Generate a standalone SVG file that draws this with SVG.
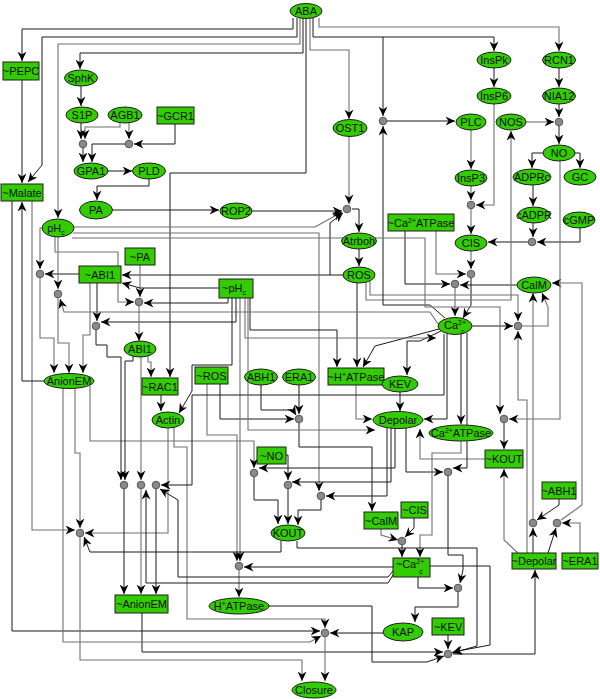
<svg xmlns="http://www.w3.org/2000/svg" width="600" height="699" viewBox="0 0 600 699">
<style>
.nd{fill:#33cc00;stroke:#1f1f1f;stroke-width:1}
.t{font-family:"Liberation Sans",Arial,sans-serif;font-size:11px;fill:#111;text-anchor:middle}
.s{font-size:7px}
.j{fill:#8a8a8a;stroke:#555;stroke-width:1}
.k{fill:none;stroke:#1a1a1a;stroke-width:1;marker-end:url(#a)}
.g{fill:none;stroke:#707070;stroke-width:1.1;marker-end:url(#a)}
</style>
<defs>
<marker id="a" markerUnits="userSpaceOnUse" markerWidth="10" markerHeight="9" refX="9.5" refY="4.5" orient="auto">
<path d="M0,0 L9.5,4.5 L0,9 L3,4.5 z" fill="#000"/>
</marker>
</defs>
<rect width="600" height="699" fill="#fff"/>
<g id="connectors">
<path class="k" d="M293,18 V29 H22 V61"/>
<path class="k" d="M297,18 V37 H42 V165 L28,182"/>
<path class="k" d="M22,80 V183"/>
<path class="g" d="M300,18 V44 H58 V218"/>
<path class="k" d="M303,18 V53 H80 V69"/>
<path class="k" d="M306,19 V173 H170 V377"/>
<path class="g" d="M310,18 V50 H349 V119"/>
<path class="k" d="M313,18 V37 H494 V51"/>
<path class="k" d="M383,37 V116"/>
<path class="g" d="M319,18 V27 H559 V51"/>
<path class="k" d="M81,86 V106"/>
<path class="k" d="M81,123 V139"/>
<path class="g" d="M120,123 V127 H85 V139"/>
<path class="g" d="M129,123 V139"/>
<path class="k" d="M175,124 V144 H134"/>
<path class="k" d="M83,148 V162"/>
<path class="k" d="M125,144 H92 V162"/>
<path class="k" d="M108,171 H132"/>
<path class="k" d="M149,179 V186 H97 V200"/>
<path class="k" d="M113,210 H219"/>
<path class="k" d="M252,211 H342"/>
<path class="g" d="M349,137 V204"/>
<path class="k" d="M352,209 H359 V232"/>
<path class="k" d="M359,249 V266"/>
<path class="g" d="M74,227 H315 L342,212"/>
<path class="k" d="M343,275 H122"/>
<path class="k" d="M330,275 V223 L343,213"/>
<path class="k" d="M494,68 V87"/>
<path class="k" d="M559,68 V87"/>
<path class="k" d="M559,104 V117"/>
<path class="g" d="M526,122 H554"/>
<path class="k" d="M559,126 V144"/>
<path class="k" d="M543,153 H532 V168"/>
<path class="k" d="M575,153 H580 V168"/>
<path class="k" d="M533,185 V206"/>
<path class="k" d="M533,223 V237"/>
<path class="k" d="M580,228 V242 H537"/>
<path class="k" d="M528,242 H488"/>
<path class="g" d="M471,130 V169"/>
<path class="g" d="M471,186 V200"/>
<path class="g" d="M494,104 V205 H476"/>
<path class="k" d="M387,121 H455"/>
<path class="g" d="M471,209 V234"/>
<path class="g" d="M471,251 V269"/>
<path class="g" d="M436,231 V274 H466"/>
<path class="k" d="M405,231 V284 H450"/>
<path class="k" d="M517,285 H460"/>
<path class="g" d="M455,288 V316"/>
<path class="k" d="M471,278 V305 L463,318"/>
<path class="k" d="M472,326 H513"/>
<path class="g" d="M522,326 H548 V307 L542,293"/>
<path class="g" d="M370,281 V295 H518 V321"/>
<path class="g" d="M366,282 V300 H511 V131"/>
<path class="k" d="M445,318 L430,305 H383 V126"/>
<path class="g" d="M533,519 V293"/>
<path class="g" d="M561,520 L582,505 V283 H552"/>
<path class="g" d="M560,161 V419 H509"/>
<path class="k" d="M504,423 V449"/>
<path class="g" d="M485,459 H420 V429"/>
<path class="g" d="M518,553 L504,540 V469"/>
<path class="k" d="M533,553 V528"/>
<path class="g" d="M527,553 V400 H518 V331"/>
<path class="k" d="M548,553 L556,528"/>
<path class="g" d="M580,553 V523 H562"/>
<path class="k" d="M559,499 V505 L537,520"/>
<path class="k" d="M441,331 L420,341 H407 V375"/>
<path class="k" d="M400,392 V411"/>
<path class="k" d="M447,334 V419 H424"/>
<path class="k" d="M461,334 V424"/>
<path class="k" d="M467,333 V468 H453"/>
<path class="k" d="M406,428 V472 H443"/>
<path class="g" d="M73,233 H319 V491"/>
<path class="g" d="M72,238 H425 V307 H500 V414"/>
<path class="k" d="M357,283 V367"/>
<path class="k" d="M439,329 L375,346 L363,367"/>
<path class="k" d="M250,298 V330 H337 V367"/>
<path class="g" d="M356,385 V419 H372"/>
<path class="k" d="M261,385 V410 H293 L296,415"/>
<path class="k" d="M299,385 V414"/>
<path class="k" d="M299,423 V447 H372 V511"/>
<path class="k" d="M220,384 V419 H294"/>
<path class="g" d="M207,384 V435 H237 V561"/>
<path class="g" d="M240,298 V561"/>
<path class="k" d="M395,429 V468 H259"/>
<path class="k" d="M391,428 V482 H292"/>
<path class="k" d="M387,427 V496 H326"/>
<path class="k" d="M286,455 H288 V480"/>
<path class="g" d="M90,386 V441 H254 V468"/>
<path class="k" d="M254,477 V500 H278 V524"/>
<path class="k" d="M288,489 V524"/>
<path class="k" d="M321,500 V510 H298 V525"/>
<path class="k" d="M448,476 V555 H463 V570 L460,583"/>
<path class="k" d="M414,518 V528 L405,537"/>
<path class="g" d="M381,529 V535 L398,540"/>
<path class="k" d="M402,545 V557"/>
<path class="g" d="M461,441 V453 H432 V535 H420 V557"/>
<path class="k" d="M393,567 H244"/>
<path class="g" d="M239,570 V597"/>
<path class="k" d="M418,577 V588 H453"/>
<path class="k" d="M458,592 V607 H415 V622"/>
<path class="k" d="M430,566 H490 V645 L453,652"/>
<path class="k" d="M297,541 V548 H477 V646 L452,653"/>
<path class="k" d="M448,635 V649"/>
<path class="k" d="M453,654 H535 V570"/>
<path class="k" d="M142,613 V652 H443"/>
<path class="k" d="M268,606 H372 V662 H427 L444,656"/>
<path class="k" d="M383,633 H330"/>
<path class="g" d="M325,637 V681"/>
<path class="k" d="M12,201 V631 H320"/>
<path class="g" d="M63,388 V642 H310 L321,636"/>
<path class="g" d="M174,427 V447 H187 V619 H325 V628"/>
<path class="g" d="M80,537 V660 H302 V681"/>
<path class="g" d="M32,201 V530 H75"/>
<path class="g" d="M75,388 V453 H80 V528"/>
<path class="g" d="M168,428 V533 H85"/>
<path class="k" d="M281,541 V552 H90 L84,537"/>
<path class="k" d="M44,381 H22 V202"/>
<path class="k" d="M124,489 V594"/>
<path class="g" d="M141,489 V594"/>
<path class="k" d="M156,489 V594"/>
<path class="k" d="M133,356 V361 H125 V480"/>
<path class="k" d="M96,330 V345 H107 V357 H121 V480"/>
<path class="g" d="M141,357 V480"/>
<path class="g" d="M148,356 V362 H151 V377"/>
<path class="k" d="M161,395 V411"/>
<path class="k" d="M232,298 V365 H192 V391 L179,413"/>
<path class="k" d="M444,334 V395 H192 V485 H161"/>
<path class="k" d="M393,575 L388,583 H146 V490"/>
<path class="k" d="M393,571 L388,577 H178 V500 L160,489"/>
<path class="g" d="M140,265 V297"/>
<path class="k" d="M97,283 V321"/>
<path class="k" d="M79,274 H45"/>
<path class="g" d="M42,228 H40 V269"/>
<path class="g" d="M58,237 V289"/>
<path class="g" d="M55,237 V252 H118 V302 H134"/>
<path class="k" d="M219,288 H140 L122,283"/>
<path class="k" d="M228,298 V303 H144"/>
<path class="g" d="M438,324 L430,312 H64 L60,299"/>
<path class="k" d="M236,298 V322 H101"/>
<path class="g" d="M40,278 V338 H54 V373"/>
<path class="g" d="M58,298 V343 H69 V373"/>
<path class="g" d="M90,283 V335 H83 V373"/>
<path class="g" d="M139,306 V341"/>
<path class="g" d="M248,298 V430 H375"/>
<path class="g" d="M245,298 V338 H436"/>
</g>
<g id="junctions">
<circle class="j" cx="83" cy="144" r="3.8"/><circle class="j" cx="129" cy="144" r="3.8"/>
<circle class="j" cx="383" cy="121" r="3.8"/><circle class="j" cx="347" cy="209" r="3.8"/>
<circle class="j" cx="559" cy="122" r="3.8"/><circle class="j" cx="471" cy="205" r="3.8"/>
<circle class="j" cx="532" cy="242" r="3.8"/><circle class="j" cx="471" cy="274" r="3.8"/>
<circle class="j" cx="455" cy="284" r="3.8"/><circle class="j" cx="518" cy="326" r="3.8"/>
<circle class="j" cx="40" cy="274" r="3.8"/><circle class="j" cx="58" cy="294" r="3.8"/>
<circle class="j" cx="139" cy="302" r="3.8"/><circle class="j" cx="96" cy="326" r="3.8"/>
<circle class="j" cx="124" cy="485" r="3.8"/><circle class="j" cx="141" cy="485" r="3.8"/>
<circle class="j" cx="156" cy="485" r="3.8"/><circle class="j" cx="299" cy="419" r="3.8"/>
<circle class="j" cx="254" cy="473" r="3.8"/><circle class="j" cx="288" cy="485" r="3.8"/>
<circle class="j" cx="321" cy="496" r="3.8"/><circle class="j" cx="504" cy="419" r="3.8"/>
<circle class="j" cx="448" cy="472" r="3.8"/><circle class="j" cx="533" cy="523" r="3.8"/>
<circle class="j" cx="557" cy="523" r="3.8"/><circle class="j" cx="402" cy="541" r="3.8"/>
<circle class="j" cx="458" cy="588" r="3.8"/><circle class="j" cx="448" cy="654" r="3.8"/>
<circle class="j" cx="239" cy="566" r="3.8"/><circle class="j" cx="325" cy="633" r="3.8"/>
<circle class="j" cx="80" cy="533" r="3.8"/>
</g>
<g id="n-ABA"><ellipse class="nd" cx="306" cy="11" rx="16" ry="7.5"/><text class="t" x="306" y="15">ABA</text></g>
<g id="n-PEPC"><rect class="nd" x="3" y="62" width="36" height="18"/><text class="t" x="21" y="75">~PEPC</text></g>
<g id="n-SphK"><ellipse class="nd" cx="81" cy="78" rx="16.5" ry="8"/><text class="t" x="81" y="82">SphK</text></g>
<g id="n-S1P"><ellipse class="nd" cx="82" cy="115" rx="16" ry="8"/><text class="t" x="82" y="119">S1P</text></g>
<g id="n-AGB1"><ellipse class="nd" cx="125" cy="115" rx="17" ry="8"/><text class="t" x="125" y="119">AGB1</text></g>
<g id="n-GCR1"><rect class="nd" x="157" y="107" width="37" height="17"/><text class="t" x="175.5" y="119.5">~GCR1</text></g>
<g id="n-GPA1"><ellipse class="nd" cx="91" cy="171" rx="17" ry="8"/><text class="t" x="91" y="175">GPA1</text></g>
<g id="n-PLD"><ellipse class="nd" cx="149" cy="171" rx="16.5" ry="8"/><text class="t" x="149" y="175">PLD</text></g>
<g id="n-Malate"><rect class="nd" x="1" y="184" width="42" height="17"/><text class="t" x="22" y="196.5">~Malate</text></g>
<g id="n-PA"><ellipse class="nd" cx="96" cy="210" rx="16.5" ry="9"/><text class="t" x="96" y="214">PA</text></g>
<g id="n-pHc"><ellipse class="nd" cx="58" cy="228" rx="16" ry="9"/><text class="t" x="56" y="232">pH<tspan class="s" dy="3">c</tspan></text></g>
<g id="n-ROP2"><ellipse class="nd" cx="236" cy="211" rx="16" ry="8"/><text class="t" x="236" y="215">ROP2</text></g>
<g id="n-OST1"><ellipse class="nd" cx="350" cy="128" rx="17" ry="8.5"/><text class="t" x="350" y="132">OST1</text></g>
<g id="n-Atrboh"><ellipse class="nd" cx="359" cy="241" rx="17.5" ry="8"/><text class="t" x="359" y="245">Atrboh</text></g>
<g id="n-ROS"><ellipse class="nd" cx="359" cy="275" rx="16" ry="8"/><text class="t" x="359" y="279">ROS</text></g>
<g id="n-InsPk"><ellipse class="nd" cx="494" cy="60" rx="17" ry="8"/><text class="t" x="494" y="64">InsPk</text></g>
<g id="n-InsP6"><ellipse class="nd" cx="494" cy="96" rx="17" ry="8"/><text class="t" x="494" y="100">InsP6</text></g>
<g id="n-RCN1"><ellipse class="nd" cx="559" cy="60" rx="16.5" ry="8"/><text class="t" x="559" y="64">RCN1</text></g>
<g id="n-NIA12"><ellipse class="nd" cx="559" cy="96" rx="16.5" ry="8"/><text class="t" x="559" y="100">NIA12</text></g>
<g id="n-PLC"><ellipse class="nd" cx="471" cy="122" rx="15" ry="8"/><text class="t" x="471" y="126">PLC</text></g>
<g id="n-NOS"><ellipse class="nd" cx="511" cy="122" rx="15" ry="8"/><text class="t" x="511" y="126">NOS</text></g>
<g id="n-NO"><ellipse class="nd" cx="559" cy="153" rx="16" ry="8"/><text class="t" x="559" y="157">NO</text></g>
<g id="n-InsP3"><ellipse class="nd" cx="471" cy="178" rx="16" ry="8"/><text class="t" x="471" y="182">InsP3</text></g>
<g id="n-ADPRc"><ellipse class="nd" cx="532" cy="177" rx="19" ry="8"/><text class="t" x="532" y="181">ADPRc</text></g>
<g id="n-GC"><ellipse class="nd" cx="580" cy="177" rx="16" ry="8"/><text class="t" x="580" y="181">GC</text></g>
<g id="n-cADPR"><ellipse class="nd" cx="534" cy="215" rx="16" ry="8"/><text class="t" x="534" y="219">cADPR</text></g>
<g id="n-cGMP"><ellipse class="nd" cx="579" cy="220" rx="16" ry="8"/><text class="t" x="579" y="224">cGMP</text></g>
<g id="n-CaATPase-r"><rect class="nd" x="388" y="214" width="66" height="17"/><text class="t" x="421" y="226.5">~Ca<tspan class="s" dy="-4">2+</tspan><tspan dy="4">ATPase</tspan></text></g>
<g id="n-CIS"><ellipse class="nd" cx="471" cy="243" rx="16" ry="8"/><text class="t" x="471" y="247">CIS</text></g>
<g id="n-CalM"><ellipse class="nd" cx="534" cy="285" rx="17" ry="8"/><text class="t" x="534" y="289">CalM</text></g>
<g id="n-Cac"><ellipse class="nd" cx="455" cy="326" rx="17" ry="8.5"/><text class="t" x="455" y="329">Ca<tspan class="s" dy="-4">2+</tspan><tspan class="s" dx="-5" dy="9">c</tspan></text></g>
<g id="n-PA-r"><rect class="nd" x="125" y="248" width="30" height="17"/><text class="t" x="140" y="260.5">~PA</text></g>
<g id="n-ABI1-r"><rect class="nd" x="79" y="266" width="42" height="17"/><text class="t" x="100" y="278.5">~ABI1</text></g>
<g id="n-pHc-r"><rect class="nd" x="219" y="279" width="34" height="19"/><text class="t" x="234" y="292">~pH<tspan class="s" dy="3">c</tspan></text></g>
<g id="n-ABI1"><ellipse class="nd" cx="140" cy="349" rx="16" ry="8"/><text class="t" x="140" y="353">ABI1</text></g>
<g id="n-AnionEM"><ellipse class="nd" cx="69" cy="381" rx="25" ry="7.5"/><text class="t" x="69" y="385">AnionEM</text></g>
<g id="n-RAC1-r"><rect class="nd" x="142" y="378" width="36" height="17"/><text class="t" x="160" y="390.5">~RAC1</text></g>
<g id="n-Actin"><ellipse class="nd" cx="168" cy="420" rx="16" ry="8"/><text class="t" x="168" y="424">Actin</text></g>
<g id="n-ROS-r"><rect class="nd" x="195" y="367" width="33" height="17"/><text class="t" x="211.5" y="379.5">~ROS</text></g>
<g id="n-ABH1"><ellipse class="nd" cx="261" cy="377" rx="16.5" ry="8"/><text class="t" x="261" y="381">ABH1</text></g>
<g id="n-ERA1"><ellipse class="nd" cx="299" cy="377" rx="16.5" ry="8"/><text class="t" x="299" y="381">ERA1</text></g>
<g id="n-HATPase-r"><rect class="nd" x="328" y="368" width="56" height="17"/><text class="t" x="356" y="380.5">~H<tspan class="s" dy="-4">+</tspan><tspan dy="4">ATPase</tspan></text></g>
<g id="n-KEV"><ellipse class="nd" cx="400" cy="384" rx="18" ry="8"/><text class="t" x="400" y="388">KEV</text></g>
<g id="n-Depolar"><ellipse class="nd" cx="398" cy="420" rx="25" ry="8.5"/><text class="t" x="398" y="424">Depolar</text></g>
<g id="n-CaATPase"><ellipse class="nd" cx="461" cy="433" rx="32" ry="8"/><text class="t" x="461" y="437">Ca<tspan class="s" dy="-4">2+</tspan><tspan dy="4">ATPase</tspan></text></g>
<g id="n-NO-r"><rect class="nd" x="257" y="447" width="29" height="17"/><text class="t" x="271.5" y="459.5">~NO</text></g>
<g id="n-KOUT-r"><rect class="nd" x="485" y="450" width="38" height="18"/><text class="t" x="504" y="463">~KOUT</text></g>
<g id="n-ABH1-r"><rect class="nd" x="542" y="482" width="34" height="17"/><text class="t" x="559" y="494.5">~ABH1</text></g>
<g id="n-CIS-r"><rect class="nd" x="401" y="502" width="27" height="16"/><text class="t" x="414.5" y="514">~CIS</text></g>
<g id="n-CalM-r"><rect class="nd" x="364" y="512" width="34" height="17"/><text class="t" x="381" y="524.5">~CalM</text></g>
<g id="n-KOUT"><ellipse class="nd" cx="288" cy="533" rx="17" ry="8"/><text class="t" x="288" y="537">KOUT</text></g>
<g id="n-Cac-r"><rect class="nd" x="393" y="558" width="37" height="19"/><text class="t" x="410" y="568">~Ca<tspan class="s" dy="-4">2+</tspan><tspan class="s" dx="-5" dy="10">c</tspan></text></g>
<g id="n-Depolar-r"><rect class="nd" x="512" y="553" width="44" height="16"/><text class="t" x="534" y="565">~Depolar</text></g>
<g id="n-ERA1-r"><rect class="nd" x="562" y="553" width="36" height="16"/><text class="t" x="580" y="565">~ERA1</text></g>
<g id="n-HATPase"><ellipse class="nd" cx="239" cy="606" rx="30" ry="8"/><text class="t" x="239" y="610">H<tspan class="s" dy="-4">+</tspan><tspan dy="4">ATPase</tspan></text></g>
<g id="n-AnionEM-r"><rect class="nd" x="115" y="595" width="53" height="18"/><text class="t" x="141.5" y="608">~AnionEM</text></g>
<g id="n-KAP"><ellipse class="nd" cx="403" cy="632" rx="20" ry="9"/><text class="t" x="403" y="636">KAP</text></g>
<g id="n-KEV-r"><rect class="nd" x="432" y="618" width="32" height="17"/><text class="t" x="448" y="630.5">~KEV</text></g>
<g id="n-Closure"><ellipse class="nd" cx="314" cy="690" rx="22" ry="8"/><text class="t" x="314" y="694">Closure</text></g>
</svg>
